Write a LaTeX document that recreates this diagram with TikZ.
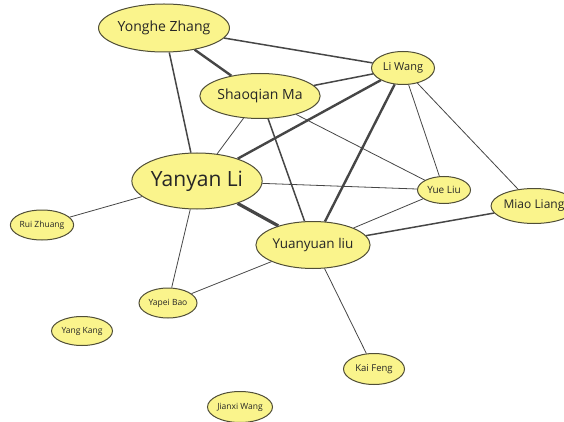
\documentclass[tikz,border=0pt]{standalone}
\usepackage{fontspec}
\setmainfont{Open Sans}
\usepackage{tikz}
\usetikzlibrary{shapes.geometric}

\definecolor{nodefill}{RGB}{250,244,140}
\definecolor{nodeline}{RGB}{80,78,55}
\definecolor{tie}{RGB}{70,70,70}

\begin{document}
\begin{tikzpicture}[x=1pt, y=-1pt,
    person/.style={ellipse, draw=nodeline, fill=nodefill, line width=1pt, inner sep=0pt, text=black!85},
    weak/.style={draw=tie, line width=0.8pt},
    mid/.style={draw=tie, line width=1.5pt},
    strong/.style={draw=tie, line width=2.4pt},
    strongest/.style={draw=tie, line width=3.2pt}]
    \useasboundingbox (0,0) rectangle (564,422);
    % people
    \node[person, minimum width=120, minimum height=48, font=\fontsize{14}{16}\selectfont] (yonghe) at (164,28) {Yonghe Zhang};
    \node[person, minimum width=110, minimum height=45, font=\fontsize{14}{16}\selectfont] (shaoqian) at (260,96) {Shaoqian Ma};
    \node[person, minimum width=63, minimum height=33, font=\fontsize{11}{13}\selectfont] (liwang) at (403,68) {Li Wang};
    \node[person, minimum width=122, minimum height=56, font=\fontsize{21}{24}\selectfont] (yanyan) at (197,181) {Yanyan Li};
    \node[person, minimum width=53, minimum height=27, font=\fontsize{10}{12}\selectfont] (yueliu) at (444,190) {Yue Liu};
    \node[person, minimum width=76, minimum height=35, font=\fontsize{12}{14}\selectfont] (miao) at (534,206) {Miao Liang};
    \node[person, minimum width=106, minimum height=47, font=\fontsize{13.5}{16}\selectfont] (yuanyuan) at (313,245) {Yuanyuan liu};
    \node[person, minimum width=63, minimum height=30, font=\fontsize{8.5}{10}\selectfont] (rui) at (42,225) {Rui Zhuang};
    \node[person, minimum width=58, minimum height=30, font=\fontsize{8.5}{10}\selectfont] (yapei) at (168,303) {Yapei Bao};
    \node[person, minimum width=61, minimum height=29, font=\fontsize{8.5}{10}\selectfont] (yang) at (82,331) {Yang Kang};
    \node[person, minimum width=65, minimum height=31, font=\fontsize{8.5}{10}\selectfont] (jianxi) at (240,407) {Jianxi Wang};
    \node[person, minimum width=61, minimum height=31, font=\fontsize{9.5}{11}\selectfont] (kai) at (374,369) {Kai Feng};
    % ties
    \draw[mid] (yonghe) -- (liwang);
    \draw[strong] (yonghe) -- (shaoqian);
    \draw[mid] (yonghe) -- (yanyan);
    \draw[mid] (shaoqian) -- (liwang);
    \draw[weak] (shaoqian) -- (yanyan);
    \draw[mid] (shaoqian) -- (yuanyuan);
    \draw[weak] (shaoqian) -- (yueliu);
    \draw[strong] (liwang) -- (yanyan);
    \draw[strong] (liwang) -- (yuanyuan);
    \draw[weak] (liwang) -- (yueliu);
    \draw[weak] (liwang) -- (miao);
    \draw[weak] (yanyan) -- (yueliu);
    \draw[strongest] (yanyan) -- (yuanyuan);
    \draw[weak] (yanyan) -- (rui);
    \draw[weak] (yanyan) -- (yapei);
    \draw[weak] (yueliu) -- (yuanyuan);
    \draw[mid] (yuanyuan) -- (miao);
    \draw[weak] (yuanyuan) -- (yapei);
    \draw[weak] (yuanyuan) -- (kai);
\end{tikzpicture}
\end{document}
